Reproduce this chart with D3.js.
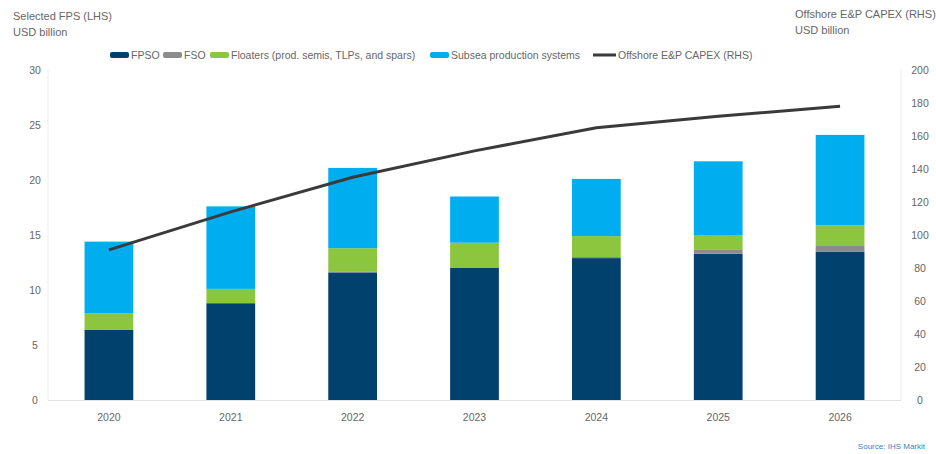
<!DOCTYPE html>
<html>
<head>
<meta charset="utf-8">
<script src="https://cdn.jsdelivr.net/npm/d3@7"></script>
<style>
  html, body { margin: 0; padding: 0; background: #fff; }
  svg { display: block; font-family: "Liberation Sans", Arial, sans-serif; }
</style>
</head>
<body>
<svg id="chart" width="936" height="454"></svg>
<script>
const years = ["2020", "2021", "2022", "2023", "2024", "2025", "2026"];
const fpso = [6.4, 8.8, 11.6, 12.0, 12.9, 13.3, 13.5];
const fso = [0.0, 0.0, 0.1, 0.0, 0.1, 0.4, 0.5];
const floaters = [1.5, 1.3, 2.1, 2.3, 1.9, 1.3, 1.9];
const subsea = [6.5, 7.5, 7.3, 4.2, 5.2, 6.7, 8.2];
const capex = [91, 114, 135, 151, 165, 172, 178];
const leftTicks = [0, 5, 10, 15, 20, 25, 30];
const rightTicks = [0, 20, 40, 60, 80, 100, 120, 140, 160, 180, 200];

const seriesNames = ["FPSO", "FSO", "Floaters (prod. semis, TLPs, and spars)", "Subsea production systems"];
const seriesKeys = ["fpso", "fso", "floaters", "subsea"];

(function () {
const colors = { fpso: "#00416e", fso: "#8c8c8c", floaters: "#8cc63e", subsea: "#00aeef" };
const lineColor = "#3a3a3a";

const table = years.map((y, i) => ({ year: y, fpso: fpso[i], fso: fso[i], floaters: floaters[i], subsea: subsea[i], capex: capex[i] }));

const svg = d3.select("#chart");
const pLeft = 48, pRight = 901, pTop = 70, pBottom = 400;

const x = d3.scaleBand().domain(years).range([pLeft, pRight]).paddingInner(0.6).paddingOuter(0.3);
const yL = d3.scaleLinear().domain([0, 30]).range([pBottom, pTop]);
const yR = d3.scaleLinear().domain([0, 200]).range([pBottom, pTop]);

// axis frame lines
svg.append("line").attr("x1", pLeft).attr("x2", pLeft).attr("y1", pTop).attr("y2", pBottom).attr("stroke", "#ececec");
svg.append("line").attr("x1", pRight).attr("x2", pRight).attr("y1", pTop).attr("y2", pBottom).attr("stroke", "#ececec");

// stacked bars
const stacked = d3.stack().keys(seriesKeys)(table);
svg.append("g").selectAll("g").data(stacked).join("g")
  .attr("fill", d => colors[d.key])
  .selectAll("rect").data(d => d).join("rect")
  .attr("x", d => x(d.data.year))
  .attr("width", x.bandwidth())
  .attr("y", d => yL(d[1]))
  .attr("height", d => Math.max(0, yL(d[0]) - yL(d[1])));

// baseline
svg.append("line").attr("x1", pLeft).attr("x2", pRight).attr("y1", pBottom + 0.5).attr("y2", pBottom + 0.5).attr("stroke", "#e3e3e3");

// line
const line = d3.line().x(d => x(d.year) + x.bandwidth() / 2).y(d => yR(d.capex));
svg.append("path").datum(table).attr("d", line).attr("fill", "none")
  .attr("stroke", lineColor).attr("stroke-width", 3);

// axes
const txtColor = "#666";
const gL = svg.append("g").attr("transform", "translate(35,0)")
  .call(d3.axisLeft(yL).tickValues(leftTicks).tickSize(0).tickPadding(0));
gL.select(".domain").remove();
gL.selectAll("text").attr("text-anchor", "middle").attr("fill", txtColor).attr("font-size", 10.5);

const gR = svg.append("g").attr("transform", "translate(920,0)")
  .call(d3.axisRight(yR).tickValues(rightTicks).tickSize(0).tickPadding(0));
gR.select(".domain").remove();
gR.selectAll("text").attr("text-anchor", "middle").attr("fill", txtColor).attr("font-size", 10.5);

const gB = svg.append("g").attr("transform", "translate(0,414)")
  .call(d3.axisBottom(x).tickSize(0).tickPadding(0));
gB.select(".domain").remove();
gB.selectAll("text").attr("fill", txtColor).attr("font-size", 10.5);

// titles
svg.append("text").attr("x", 13).attr("y", 20).attr("font-size", 11).attr("fill", txtColor).text("Selected FPS (LHS)");
svg.append("text").attr("x", 13).attr("y", 36).attr("font-size", 11).attr("fill", txtColor).text("USD billion");
svg.append("text").attr("x", 795).attr("y", 18).attr("font-size", 11).attr("fill", txtColor).text("Offshore E&P CAPEX (RHS)");
svg.append("text").attr("x", 795).attr("y", 34).attr("font-size", 11).attr("fill", txtColor).text("USD billion");

// legend
const legend = svg.append("g").attr("font-size", 10.5).attr("fill", txtColor);
const legItems = [
  { label: seriesNames[0], color: colors.fpso, type: "rect", x: 110 },
  { label: seriesNames[1], color: colors.fso, type: "rect", x: 163 },
  { label: seriesNames[2], color: colors.floaters, type: "rect", x: 210 },
  { label: seriesNames[3], color: colors.subsea, type: "rect", x: 430 },
  { label: "Offshore E&P CAPEX (RHS)", color: lineColor, type: "line", x: 593 }
];
const ly = 55;
legItems.forEach(it => {
  if (it.type === "rect") {
    legend.append("rect").attr("x", it.x).attr("y", ly - 3).attr("width", 19).attr("height", 6).attr("rx", 2).attr("fill", it.color);
  } else {
    legend.append("line").attr("x1", it.x).attr("x2", it.x + 23).attr("y1", ly).attr("y2", ly).attr("stroke", it.color).attr("stroke-width", 3);
  }
  legend.append("text").attr("x", it.x + (it.type === "rect" ? 21 : 25)).attr("y", ly + 4).text(it.label);
});

// source
svg.append("text").attr("x", 925).attr("y", 449).attr("text-anchor", "end").attr("font-size", 8).attr("fill", "#3b7fc4").text("Source: IHS Markit");
})();
</script>
</body>
</html>
